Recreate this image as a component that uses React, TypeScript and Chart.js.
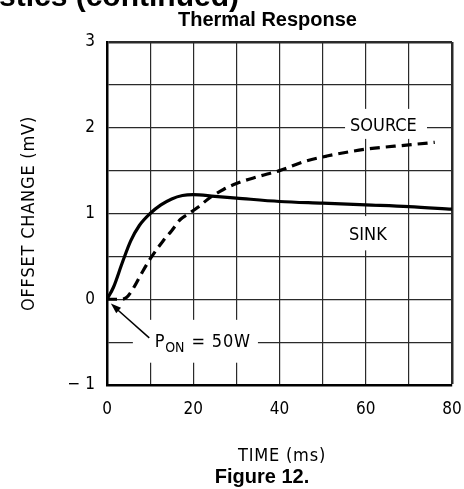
import React, { useEffect, useRef } from "react";
import { Chart, registerables } from "chart.js";

Chart.register(...registerables);

const sinkTime = [0, 1.5, 3.5, 5.5, 7.5, 10, 12.5, 15, 17.5, 20, 25, 30, 40, 50, 60, 70, 80];
const sinkValues = [0, 0.14, 0.42, 0.68, 0.86, 1.0, 1.1, 1.17, 1.21, 1.22, 1.2, 1.18, 1.14, 1.12, 1.1, 1.08, 1.05];

const sourceTime = [0, 3, 4.5, 6, 8, 10, 13, 15, 17, 19, 21, 24, 27, 30, 35, 40, 46, 51, 60, 70, 76];
const sourceValues = [0, 0, 0.02, 0.12, 0.3, 0.47, 0.68, 0.8, 0.93, 1.0, 1.07, 1.19, 1.28, 1.35, 1.43, 1.5, 1.61, 1.67, 1.75, 1.8, 1.83];

const xTickLabels = [0, 20, 40, 60, 80];
const yTickLabels = [-1, 0, 1, 2, 3];

const COND = '"DejaVu Sans Condensed", "DejaVu Sans", sans-serif';
const BOLD = 'bold 20px "Liberation Sans", Arial, sans-serif';

const textPlugin = {
  id: "texts",
  beforeDatasetsDraw(chart: any) {
    const { ctx, scales } = chart;
    const x = scales.x;
    const y = scales.y;
    ctx.save();
    ctx.fillStyle = "#fff";
    const mask = (x0: number, x1: number, y0: number, y1: number) => {
      const px0 = x.getPixelForValue(x0);
      const px1 = x.getPixelForValue(x1);
      const py0 = y.getPixelForValue(y0);
      const py1 = y.getPixelForValue(y1);
      ctx.fillRect(px0, py0, px1 - px0, py1 - py0);
    };
    mask(55.2, 74.2, 2.22, 1.87);
    mask(55.2, 66.1, 0.97, 0.57);
    mask(6, 35, -0.24, -0.74);
    ctx.restore();
  },
  afterDraw(chart: any) {
    const { ctx, scales, chartArea } = chart;
    const x = scales.x;
    const y = scales.y;
    ctx.save();
    ctx.fillStyle = "#000";
    ctx.strokeStyle = "#000";

    // Headings
    ctx.font = 'bold 30px "Liberation Sans", Arial, sans-serif';
    ctx.textAlign = "right";
    ctx.textBaseline = "alphabetic";
    ctx.fillText("Typical Performance Characteristics (continued)", 239, 6);

    ctx.font = BOLD;
    ctx.textAlign = "center";
    ctx.fillText("Thermal Response", 267.5, 26);
    ctx.fillText("Figure 12.", 262, 483);

    // Axis titles
    ctx.font = "18px " + COND;
    (ctx as any).letterSpacing = "0.8px";
    ctx.textAlign = "center";
    ctx.fillText("TIME (ms)", 282, 461);
    ctx.save();
    ctx.translate(34, (chartArea.top + chartArea.bottom) / 2);
    ctx.rotate(-Math.PI / 2);
    ctx.fillText("OFFSET CHANGE (mV)", 0, 0);
    ctx.restore();
    (ctx as any).letterSpacing = "0px";

    // Curve labels
    ctx.font = "18px " + COND;
    ctx.textAlign = "center";
    ctx.fillText("SOURCE", x.getPixelForValue(64.1), y.getPixelForValue(1.96));
    ctx.fillText("SINK", x.getPixelForValue(60.5), y.getPixelForValue(0.69));

    // P_ON = 50W
    ctx.textAlign = "left";
    const px = x.getPixelForValue(11.1);
    const py = y.getPixelForValue(-0.56);
    ctx.font = "18px " + COND;
    ctx.fillText("P", px, py);
    const pw = ctx.measureText("P").width;
    ctx.font = "14px " + COND;
    ctx.fillText("ON", px + pw + 0.5, py + 5);
    ctx.font = "18px " + COND;
    (ctx as any).letterSpacing = "0.8px";
    ctx.fillText("= 50W", x.getPixelForValue(19.6), py);
    (ctx as any).letterSpacing = "0px";

    // Arrow
    const tx = x.getPixelForValue(0.9);
    const ty = y.getPixelForValue(-0.05);
    const sx = x.getPixelForValue(9.8);
    const sy = y.getPixelForValue(-0.45);
    ctx.lineWidth = 1.5;
    ctx.beginPath();
    ctx.moveTo(sx, sy);
    ctx.lineTo(tx + 3, ty + 3);
    ctx.stroke();
    const ang = Math.atan2(ty - sy, tx - sx);
    const L = 11;
    const W = 0.33;
    ctx.beginPath();
    ctx.moveTo(tx, ty);
    ctx.lineTo(tx - L * Math.cos(ang - W), ty - L * Math.sin(ang - W));
    ctx.lineTo(tx - L * Math.cos(ang + W), ty - L * Math.sin(ang + W));
    ctx.closePath();
    ctx.fill();
    ctx.restore();
  },
};

export default function App() {
  const ref = useRef<HTMLCanvasElement | null>(null);
  useEffect(() => {
    document.body.style.margin = "0";
    const canvas = ref.current;
    if (!canvas) return;
    const chart = new Chart(canvas, {
      type: "line",
      data: {
        datasets: [
          {
            label: "SINK",
            data: sinkTime.map((t, i) => ({ x: t, y: sinkValues[i] })),
            borderColor: "#000",
            borderWidth: 3.2,
            pointRadius: 0,
            cubicInterpolationMode: "monotone",
            fill: false,
          },
          {
            label: "SOURCE",
            data: sourceTime.map((t, i) => ({ x: t, y: sourceValues[i] })),
            borderColor: "#000",
            borderWidth: 3.2,
            borderDash: [10, 6],
            pointRadius: 0,
            cubicInterpolationMode: "monotone",
            fill: false,
          },
        ],
      },
      options: {
        animation: false,
        responsive: false,
        devicePixelRatio: 1,
        layout: { padding: { left: 0, top: 42, right: 0, bottom: 0 } },
        plugins: {
          legend: { display: false },
          tooltip: { enabled: false },
          title: { display: false },
        },
        scales: {
          x: {
            type: "linear",
            min: 0,
            max: 80,
            afterFit: (s: any) => {
              s.height = 104;
              s.paddingRight = 12;
            },
            ticks: {
              stepSize: 10,
              autoSkip: false,
              maxRotation: 0,
              padding: 14,
              color: "#000",
              font: { family: COND, size: 17 },
              callback: (v: any) => (xTickLabels.includes(Number(v)) ? String(v) : ""),
            },
            grid: {
              color: "#2a2a2a",
              lineWidth: (c: any) => (c.tick && c.tick.value === 80 ? 2.5 : 1.2),
              drawTicks: false,
              tickLength: 0,
            },
            border: { display: true, color: "#000", width: 2.5 },
          },
          y: {
            type: "linear",
            min: -1,
            max: 3,
            afterFit: (s: any) => {
              s.width = 107;
              s.paddingTop = 0;
              s.paddingBottom = 0;
            },
            ticks: {
              stepSize: 0.5,
              autoSkip: false,
              padding: 12,
              color: "#000",
              font: { family: COND, size: 17 },
              callback: (v: any) => {
                const n = Number(v);
                if (!yTickLabels.includes(n)) return "";
                return n < 0 ? "\u2212 " + Math.abs(n) : String(n);
              },
            },
            grid: {
              color: "#2a2a2a",
              lineWidth: (c: any) => (c.tick && c.tick.value === 3 ? 2.5 : 1.2),
              drawTicks: false,
              tickLength: 0,
            },
            border: { display: true, color: "#000", width: 2.5 },
          },
        },
      },
      plugins: [textPlugin],
    } as any);
    return () => chart.destroy();
  }, []);
  return (
    <div style={{ width: 464, height: 489, background: "#fff" }}>
      <canvas ref={ref} width={464} height={489} style={{ display: "block" }} />
    </div>
  );
}
